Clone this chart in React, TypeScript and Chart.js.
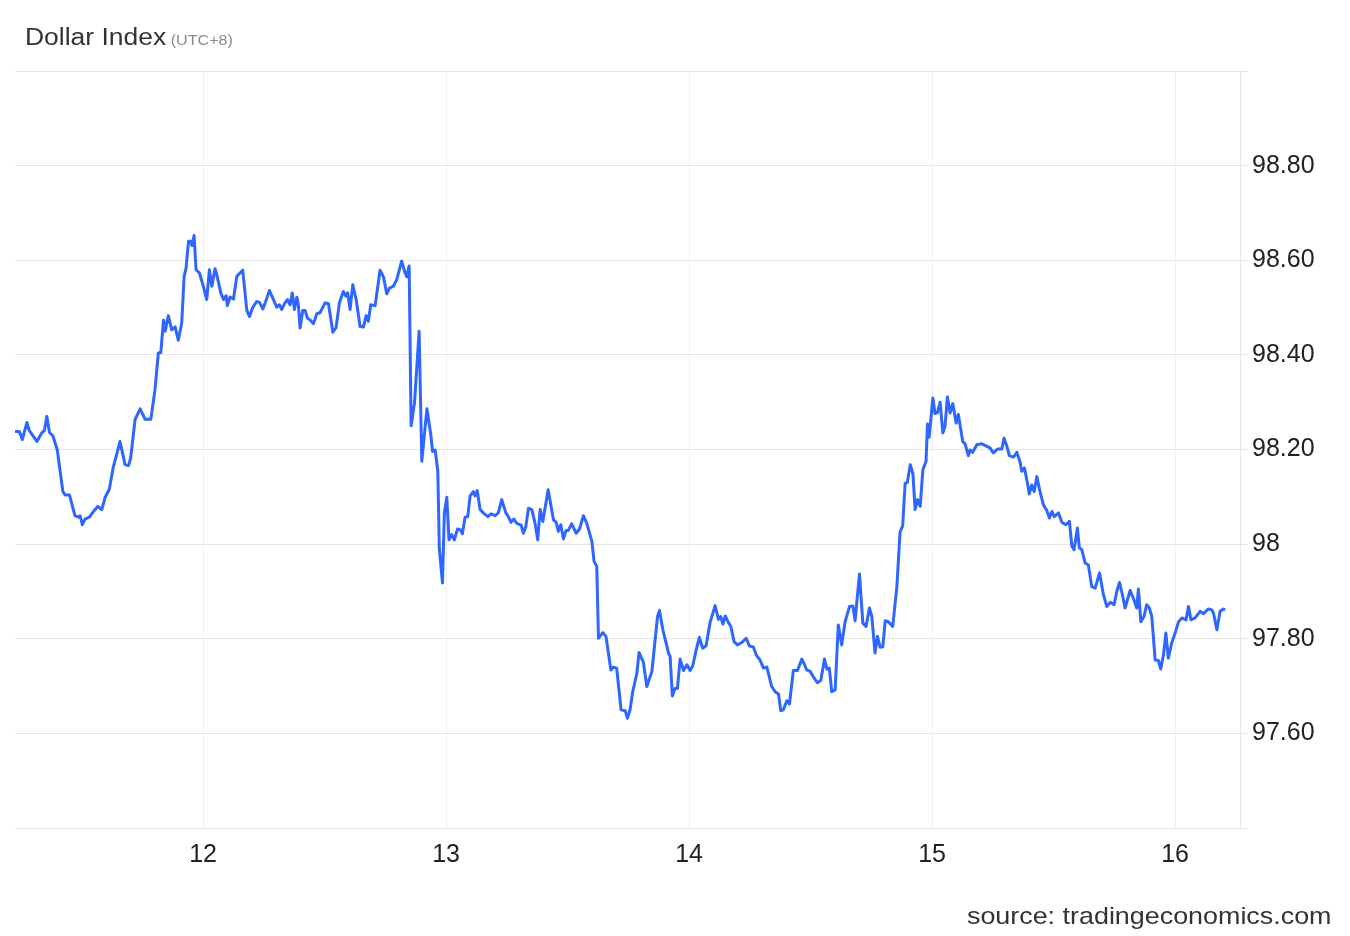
import React, { useEffect, useRef } from 'react';
import { Chart, registerables } from 'chart.js';

Chart.register(...registerables);

// Time position in days (day-of-month with fraction, UTC+8)
const dayPos = [
  11.226, 11.244, 11.256, 11.275, 11.285, 11.316, 11.336, 11.347, 11.357, 11.368,
  11.382, 11.400, 11.423, 11.432, 11.450, 11.473, 11.487, 11.494, 11.503, 11.514,
  11.532, 11.549, 11.567, 11.583, 11.597, 11.614, 11.631, 11.642, 11.658, 11.679,
  11.693, 11.702, 11.720, 11.741, 11.761, 11.785, 11.802, 11.816, 11.826, 11.837,
  11.844, 11.857, 11.871, 11.885, 11.898, 11.912, 11.922, 11.930, 11.940, 11.949,
  11.954, 11.963, 11.971, 11.985, 12.001, 12.015, 12.026, 12.036, 12.049, 12.056,
  12.073, 12.084, 12.095, 12.100, 12.111, 12.125, 12.139, 12.163, 12.180, 12.191,
  12.205, 12.221, 12.232, 12.246, 12.259, 12.273, 12.287, 12.303, 12.314, 12.324,
  12.337, 12.347, 12.358, 12.367, 12.376, 12.386, 12.392, 12.399, 12.410, 12.420,
  12.429, 12.440, 12.454, 12.468, 12.481, 12.502, 12.516, 12.534, 12.547, 12.561,
  12.577, 12.588, 12.595, 12.605, 12.616, 12.630, 12.646, 12.660, 12.671, 12.680,
  12.690, 12.708, 12.728, 12.742, 12.756, 12.767, 12.783, 12.797, 12.817, 12.831,
  12.838, 12.848, 12.856, 12.870, 12.889, 12.900, 12.921, 12.938, 12.944, 12.955,
  12.966, 12.972, 12.985, 12.993, 13.003, 13.012, 13.023, 13.034, 13.047, 13.059,
  13.067, 13.078, 13.089, 13.099, 13.112, 13.119, 13.128, 13.140, 13.153, 13.172,
  13.185, 13.202, 13.215, 13.229, 13.246, 13.256, 13.267, 13.279, 13.291, 13.309,
  13.318, 13.328, 13.339, 13.353, 13.366, 13.377, 13.387, 13.398, 13.420, 13.442,
  13.453, 13.462, 13.472, 13.483, 13.494, 13.503, 13.517, 13.535, 13.549, 13.565,
  13.579, 13.600, 13.609, 13.620, 13.627, 13.645, 13.658, 13.678, 13.689, 13.702,
  13.720, 13.737, 13.746, 13.757, 13.768, 13.785, 13.794, 13.812, 13.826, 13.847,
  13.870, 13.878, 13.892, 13.915, 13.922, 13.931, 13.942, 13.952, 13.963, 13.977,
  13.991, 14.004, 14.015, 14.029, 14.042, 14.056, 14.070, 14.086, 14.107, 14.121,
  14.130, 14.139, 14.149, 14.162, 14.172, 14.185, 14.199, 14.217, 14.235, 14.248,
  14.265, 14.276, 14.292, 14.306, 14.320, 14.340, 14.354, 14.368, 14.377, 14.388,
  14.402, 14.413, 14.429, 14.446, 14.464, 14.477, 14.484, 14.498, 14.512, 14.528,
  14.542, 14.557, 14.567, 14.577, 14.587, 14.601, 14.614, 14.628, 14.642, 14.660,
  14.674, 14.683, 14.701, 14.715, 14.728, 14.742, 14.752, 14.765, 14.775, 14.786,
  14.797, 14.807, 14.820, 14.838, 14.855, 14.868, 14.879, 14.889, 14.898, 14.910,
  14.921, 14.930, 14.940, 14.951, 14.962, 14.975, 14.981, 14.988, 15.003, 15.012,
  15.022, 15.033, 15.044, 15.053, 15.063, 15.074, 15.085, 15.099, 15.108, 15.126,
  15.136, 15.149, 15.156, 15.167, 15.184, 15.205, 15.228, 15.239, 15.252, 15.269,
  15.287, 15.296, 15.307, 15.318, 15.335, 15.349, 15.362, 15.369, 15.380, 15.390,
  15.400, 15.410, 15.420, 15.431, 15.444, 15.458, 15.472, 15.483, 15.493, 15.503,
  15.520, 15.534, 15.551, 15.565, 15.575, 15.584, 15.598, 15.606, 15.616, 15.630,
  15.643, 15.657, 15.671, 15.689, 15.705, 15.719, 15.733, 15.749, 15.760, 15.771,
  15.783, 15.794, 15.815, 15.831, 15.842, 15.849, 15.859, 15.872, 15.883, 15.894,
  15.904, 15.918, 15.931, 15.941, 15.952, 15.962, 15.972, 15.986, 16.000, 16.014,
  16.028, 16.045, 16.055, 16.065, 16.082, 16.103, 16.117, 16.137, 16.151, 16.158,
  16.172, 16.185, 16.199, 16.206,
];

// Dollar Index values
const dollarIndex = [
  98.238, 98.238, 98.221, 98.257, 98.240, 98.217, 98.235, 98.240, 98.270, 98.236,
  98.229, 98.199, 98.111, 98.104, 98.104, 98.060, 98.057, 98.060, 98.041, 98.053,
  98.057, 98.069, 98.080, 98.073, 98.099, 98.116, 98.164, 98.185, 98.217, 98.168,
  98.166, 98.182, 98.263, 98.286, 98.264, 98.264, 98.326, 98.404, 98.405, 98.473,
  98.450, 98.483, 98.453, 98.459, 98.431, 98.467, 98.566, 98.584, 98.640, 98.640,
  98.631, 98.652, 98.580, 98.573, 98.545, 98.517, 98.580, 98.545, 98.582, 98.570,
  98.531, 98.517, 98.525, 98.504, 98.522, 98.518, 98.566, 98.579, 98.494, 98.481,
  98.501, 98.513, 98.511, 98.497, 98.515, 98.536, 98.520, 98.501, 98.506, 98.496,
  98.510, 98.517, 98.506, 98.531, 98.496, 98.522, 98.506, 98.457, 98.494, 98.494,
  98.478, 98.474, 98.466, 98.487, 98.489, 98.510, 98.508, 98.448, 98.457, 98.510,
  98.534, 98.524, 98.531, 98.496, 98.548, 98.517, 98.460, 98.459, 98.483, 98.471,
  98.506, 98.504, 98.579, 98.565, 98.529, 98.541, 98.545, 98.559, 98.598, 98.574,
  98.565, 98.588, 98.250, 98.298, 98.450, 98.175, 98.286, 98.228, 98.196, 98.199,
  98.154, 97.992, 97.918, 98.066, 98.099, 98.009, 98.020, 98.009, 98.032, 98.030,
  98.022, 98.057, 98.058, 98.102, 98.111, 98.102, 98.113, 98.073, 98.066, 98.058,
  98.064, 98.060, 98.066, 98.094, 98.066, 98.058, 98.046, 98.053, 98.044, 98.040,
  98.023, 98.037, 98.076, 98.073, 98.044, 98.009, 98.073, 98.048, 98.115, 98.051,
  98.046, 98.027, 98.041, 98.011, 98.029, 98.029, 98.043, 98.023, 98.032, 98.060,
  98.044, 98.006, 97.963, 97.953, 97.801, 97.813, 97.805, 97.734, 97.740, 97.738,
  97.650, 97.648, 97.632, 97.650, 97.688, 97.727, 97.771, 97.750, 97.699, 97.731,
  97.847, 97.860, 97.819, 97.770, 97.762, 97.679, 97.695, 97.695, 97.757, 97.733,
  97.745, 97.733, 97.743, 97.776, 97.803, 97.780, 97.785, 97.834, 97.870, 97.841,
  97.847, 97.831, 97.848, 97.834, 97.826, 97.794, 97.787, 97.792, 97.801, 97.785,
  97.782, 97.766, 97.755, 97.738, 97.740, 97.699, 97.688, 97.683, 97.648, 97.650,
  97.669, 97.662, 97.733, 97.733, 97.757, 97.743, 97.734, 97.731, 97.719, 97.707,
  97.712, 97.757, 97.736, 97.738, 97.688, 97.692, 97.829, 97.787, 97.836, 97.868,
  97.869, 97.838, 97.937, 97.833, 97.826, 97.865, 97.847, 97.770, 97.805, 97.782,
  97.783, 97.838, 97.836, 97.826, 97.910, 98.025, 98.039, 98.129, 98.130, 98.168,
  98.149, 98.073, 98.094, 98.080, 98.157, 98.175, 98.254, 98.226, 98.309, 98.276,
  98.278, 98.300, 98.235, 98.249, 98.311, 98.277, 98.297, 98.256, 98.274, 98.217,
  98.212, 98.187, 98.199, 98.194, 98.210, 98.212, 98.206, 98.203, 98.193, 98.201,
  98.201, 98.224, 98.208, 98.187, 98.184, 98.194, 98.173, 98.154, 98.161, 98.135,
  98.106, 98.125, 98.111, 98.143, 98.111, 98.083, 98.071, 98.055, 98.069, 98.058,
  98.066, 98.046, 98.041, 98.048, 97.996, 97.988, 98.034, 97.992, 97.988, 97.960,
  97.956, 97.910, 97.907, 97.939, 97.893, 97.868, 97.877, 97.872, 97.900, 97.919,
  97.893, 97.865, 97.902, 97.882, 97.865, 97.905, 97.836, 97.847, 97.872, 97.865,
  97.847, 97.755, 97.754, 97.736, 97.766, 97.812, 97.759, 97.791, 97.812, 97.836,
  97.844, 97.840, 97.868, 97.840, 97.844, 97.858, 97.853, 97.863, 97.861, 97.854,
  97.819, 97.858, 97.863, 97.861,
];

const xTickDays = [12, 13, 14, 15, 16];
const xTickLabels = ['12', '13', '14', '15', '16'];
const yGridValues = [97.4, 97.6, 97.8, 98.0, 98.2, 98.4, 98.6, 98.8, 99.0];
const yTickLabels = ['', '97.60', '97.80', '98', '98.20', '98.40', '98.60', '98.80', ''];

const X_MIN = 11.226;
const X_MAX = 16.267;
const Y_MIN = 97.4;
const Y_MAX = 99.0;

const FONT = "'Liberation Sans', Arial, Helvetica, sans-serif";

export default function App() {
  const canvasRef = useRef<HTMLCanvasElement | null>(null);

  useEffect(() => {
    const canvas = canvasRef.current;
    if (!canvas) return;
    const points = dayPos.map((d, i) => ({ x: d, y: dollarIndex[i] }));
    const chart = new Chart(canvas, {
      type: 'line',
      data: {
        datasets: [
          {
            data: points,
            borderColor: '#2f66ff',
            borderWidth: 3,
            pointRadius: 0,
            pointHoverRadius: 0,
            tension: 0,
            fill: false,
            borderJoinStyle: 'round',
          },
        ],
      },
      options: {
        animation: false,
        responsive: false,
        devicePixelRatio: 1,
        events: [],
        layout: {
          autoPadding: false,
          padding: { left: 15, top: 71, right: 0, bottom: 48 },
        },
        plugins: {
          legend: { display: false },
          tooltip: { enabled: false },
          title: { display: false },
        },
        scales: {
          x: {
            type: 'linear',
            min: X_MIN,
            max: X_MAX,
            afterBuildTicks: (scale: any) => {
              scale.ticks = xTickDays.map((v) => ({ value: v }));
            },
            afterFit: (scale: any) => {
              scale.height = 60;
            },
            grid: { color: '#edf1f7', lineWidth: 1, drawTicks: false },
            border: { display: false },
            ticks: {
              padding: 12,
              autoSkip: false,
              maxRotation: 0,
              color: '#222',
              font: { family: FONT, size: 25 },
              callback: (_v: any, i: number) => xTickLabels[i],
            },
          },
          y: {
            type: 'linear',
            position: 'right',
            min: Y_MIN,
            max: Y_MAX,
            afterBuildTicks: (scale: any) => {
              scale.ticks = yGridValues.map((v) => ({ value: v }));
            },
            afterFit: (scale: any) => {
              scale.width = 110;
            },
            grid: { color: '#e6e6e6', lineWidth: 1, tickLength: 8 },
            border: { display: true, color: '#e6e6e6' },
            ticks: {
              padding: 4,
              autoSkip: false,
              color: '#222',
              font: { family: FONT, size: 25 },
              callback: (_v: any, i: number) => yTickLabels[i],
            },
          },
        },
      },
    } as any);
    return () => chart.destroy();
  }, []);

  return (
    <div
      style={{
        position: 'fixed',
        left: 0,
        top: 0,
        width: 1350,
        height: 936,
        background: '#fff',
        overflow: 'hidden',
        fontFamily: FONT,
      }}
    >
      <canvas
        ref={canvasRef}
        width={1350}
        height={936}
        style={{ position: 'absolute', left: 0, top: 0, width: 1350, height: 936, display: 'block' }}
      />
      <div
        style={{
          position: 'absolute',
          left: 25,
          top: 26,
          fontSize: 23,
          lineHeight: '23px',
          color: '#333',
          whiteSpace: 'nowrap',
          transform: 'scaleX(1.15)',
          transformOrigin: 'left top',
        }}
      >
        Dollar Index
        <span style={{ fontSize: 14, color: '#8a8a8a', marginLeft: 4 }}>(UTC+8)</span>
      </div>
      <div
        style={{
          position: 'absolute',
          right: 19,
          top: 904,
          fontSize: 24,
          lineHeight: '24px',
          color: '#333',
          whiteSpace: 'nowrap',
          transform: 'scaleX(1.12)',
          transformOrigin: 'right top',
        }}
      >
        source: tradingeconomics.com
      </div>
    </div>
  );
}
